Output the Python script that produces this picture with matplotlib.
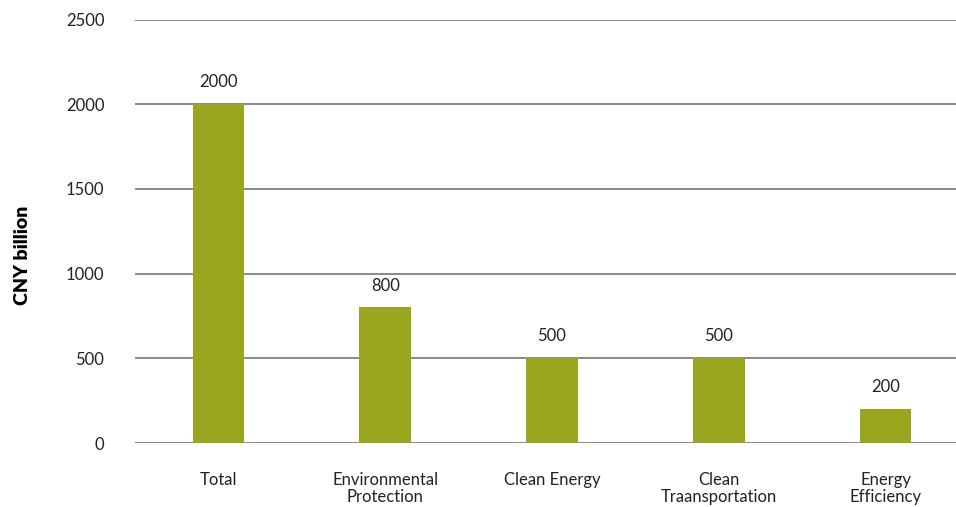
import matplotlib
matplotlib.use('Agg')
import matplotlib.pyplot as plt
import numpy as np

categories = ['Total', 'Environmental\nProtection', 'Clean Energy',
              'Clean\nTraansportation', 'Energy\nEfficiency']
values = [2000, 800, 500, 500, 200]
yticks = [0, 500, 1000, 1500, 2000, 2500]

plt.rcParams['font.family'] = ['Lato', 'DejaVu Sans']

fig = plt.figure(figsize=(9.56, 5.07), dpi=100)
ax = fig.add_axes([135/956, 64/507, 834/956, 423.5/507])

x = np.arange(len(categories))
ax.bar(x, values, width=0.31, color='#9aa61f', zorder=3)

for xi, v in zip(x, values):
    ax.annotate(str(v), (xi, v), xytext=(0, 10), textcoords='offset points',
                ha='center', va='bottom', fontsize=12, color='#222222')

ax.set_xlim(-0.5, len(categories) - 0.5)
ax.set_ylim(0, 2500)
ax.set_yticks(yticks)
ax.yaxis.grid(True, color='#808080', linewidth=1.3, zorder=0)
ax.set_xticks(x)
ax.set_xticklabels(categories, fontsize=12, color='#222222', linespacing=1.1)
ax.tick_params(axis='y', length=0, pad=22, labelsize=12, labelcolor='#222222')
ax.tick_params(axis='x', length=0, pad=21)
for s in ax.spines.values():
    s.set_visible(False)

ax.set_ylabel('CNY billion', fontsize=14, fontweight='heavy')
ax.yaxis.set_label_coords(-0.125, 0.444)

fig.savefig('out.png', dpi=100)
